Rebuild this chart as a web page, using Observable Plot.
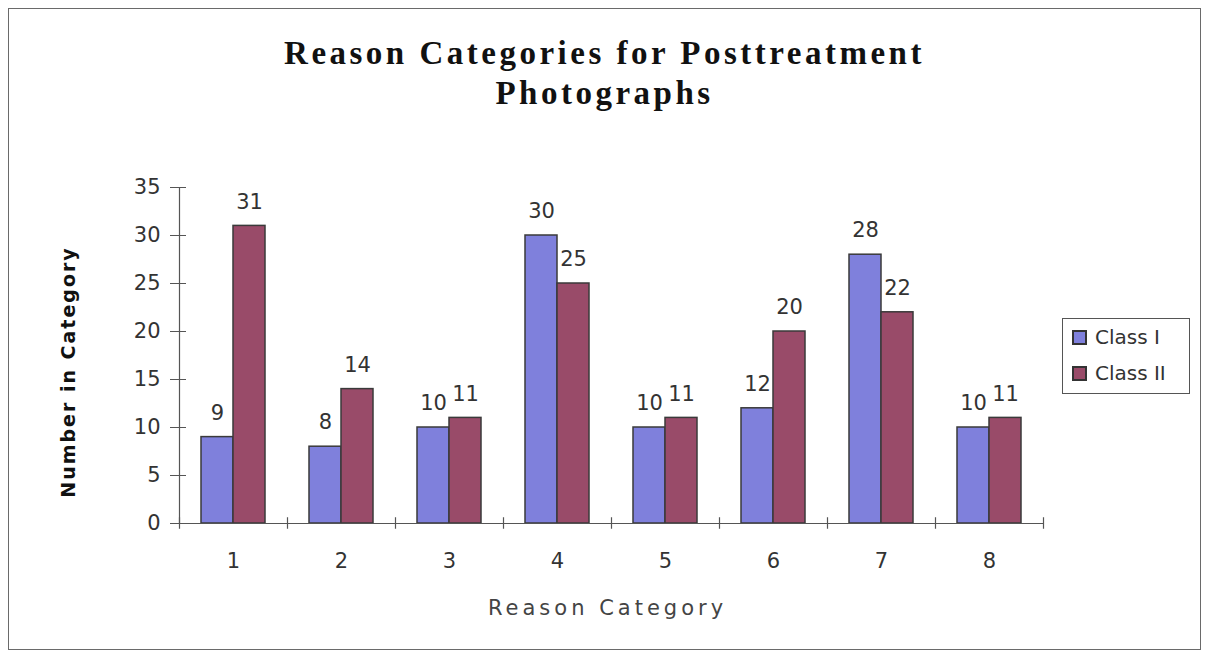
<!DOCTYPE html>
<html>
<head>
<meta charset="utf-8">
<script src="https://cdn.jsdelivr.net/npm/d3@7"></script>
<script src="https://cdn.jsdelivr.net/npm/@observablehq/plot@0.6"></script>
<style>
  body { margin: 0; background: #fff; }
  #wrap { position: relative; width: 1209px; height: 657px; overflow: hidden; background: #fff; }
  #border { position: absolute; left: 8px; top: 8px; width: 1193px; height: 642px; border: 1.5px solid #6a6a6a; box-sizing: border-box; pointer-events: none; }
  #title { position: absolute; left: 0; width: 1209px; top: 33px; text-align: center; font-family: "Liberation Serif", serif; font-weight: bold; font-size: 33px; line-height: 40px; color: #111; letter-spacing: 3.5px; }
  #xtitle { position: absolute; left: 0; width: 1215px; top: 594px; text-align: center; font-family: "DejaVu Sans", sans-serif; font-size: 21px; line-height: 28px; color: #444; letter-spacing: 4px; }
  #ytitle { position: absolute; left: 68px; top: 372px; width: 400px; margin-left: -200px; line-height: 24px; margin-top: -12px; text-align: center; transform: rotate(-90deg); font-family: "DejaVu Sans", sans-serif; font-weight: bold; font-size: 19px; color: #111; letter-spacing: 2px; }
  #legend { position: absolute; left: 1062px; top: 318px; width: 128px; height: 76px; border: 1.5px solid #555; box-sizing: border-box; font-family: "DejaVu Sans", sans-serif; font-size: 20px; color: #333; }
  .item { position: absolute; left: 9px; display: flex; align-items: center; }
  .sw { width: 11px; height: 11px; border: 2px solid #333; margin-right: 8px; }
  #plot { position: absolute; left: 0; top: 0; }
</style>
</head>
<body>
<div id="wrap">
  <div id="plot"></div>
  <div id="border"></div>
  <div id="title">Reason Categories for Posttreatment<br>Photographs</div>
  <div id="xtitle"></div>
  <div id="ytitle"></div>
  <div id="legend"></div>
</div>
<script>
const categories = ["1", "2", "3", "4", "5", "6", "7", "8"];
const seriesNames = ["Class I", "Class II"];
const classI = [9, 8, 10, 30, 10, 12, 28, 10];
const classII = [31, 14, 11, 25, 11, 20, 22, 11];
const yTicks = [0, 5, 10, 15, 20, 25, 30, 35];
const colors = ["#7f80dc", "#994b69"];
const xTitle = "Reason Category";
const yTitle = "Number in Category";

document.getElementById("xtitle").textContent = xTitle;
document.getElementById("ytitle").textContent = yTitle;

const rowsI = categories.map((c, i) => ({cat: c, cls: seriesNames[0], value: classI[i]}));
const rowsII = categories.map((c, i) => ({cat: c, cls: seriesNames[1], value: classII[i]}));

const font = "DejaVu Sans, sans-serif";
const chart = Plot.plot({
  width: 1209,
  height: 657,
  marginLeft: 178,
  marginRight: 166,
  marginTop: 187,
  marginBottom: 134,
  style: {fontFamily: font, fontSize: "20px", color: "#333", background: "transparent"},
  x: {domain: categories, padding: 0, axis: null},
  y: {domain: [0, 35], axis: null},
  color: {domain: seriesNames, range: colors},
  marks: [
    Plot.barY(rowsI, {x: "cat", y: "value", fill: "cls", stroke: "#3a3a3a", strokeWidth: 1.5, insetLeft: 38, insetRight: 38, dx: -16}),
    Plot.barY(rowsII, {x: "cat", y: "value", fill: "cls", stroke: "#3a3a3a", strokeWidth: 1.5, insetLeft: 38, insetRight: 38, dx: 16}),
    Plot.text(rowsI, {x: "cat", y: "value", text: "value", dx: -16, dy: -24, fill: "#333", fontSize: 21}),
    Plot.text(rowsII, {x: "cat", y: "value", text: "value", dx: 16, dy: -24, fill: "#333", fontSize: 21}),
    // x axis line and boundary ticks
    Plot.ruleY([0], {stroke: "#555", strokeWidth: 1.2}),
    Plot.ruleX(categories, {x: d => d, dx: -54, y1: -0.6, y2: 0.6, stroke: "#555", strokeWidth: 1.2}),
    Plot.ruleX([categories[categories.length - 1]], {x: d => d, dx: 54, y1: -0.6, y2: 0.6, stroke: "#555", strokeWidth: 1.2}),
    // y axis line
    Plot.ruleX([categories[0]], {x: d => d, dx: -54, y1: 0, y2: 35, stroke: "#555", strokeWidth: 1.2}),
    Plot.axisY({ticks: yTicks, tickSize: 8, tickPadding: 10, tickFormat: d => d, label: null, stroke: "#555", fill: "#333", fontSize: 21}),
    Plot.axisY({ticks: yTicks, tickSize: -8, tickFormat: () => "", label: null, stroke: "#555"}),
    Plot.axisX({tickSize: 0, tickPadding: 30, label: null, fill: "#333", fontSize: 21})
  ]
});
document.getElementById("plot").appendChild(chart);

const legend = document.getElementById("legend");
seriesNames.forEach((name, i) => {
  const item = document.createElement("div");
  item.className = "item";
  item.style.top = (6 + i * 36) + "px";
  const sw = document.createElement("div");
  sw.className = "sw";
  sw.style.background = colors[i];
  item.appendChild(sw);
  const t = document.createElement("span");
  t.textContent = name;
  item.appendChild(t);
  legend.appendChild(item);
});
</script>
</body>
</html>
